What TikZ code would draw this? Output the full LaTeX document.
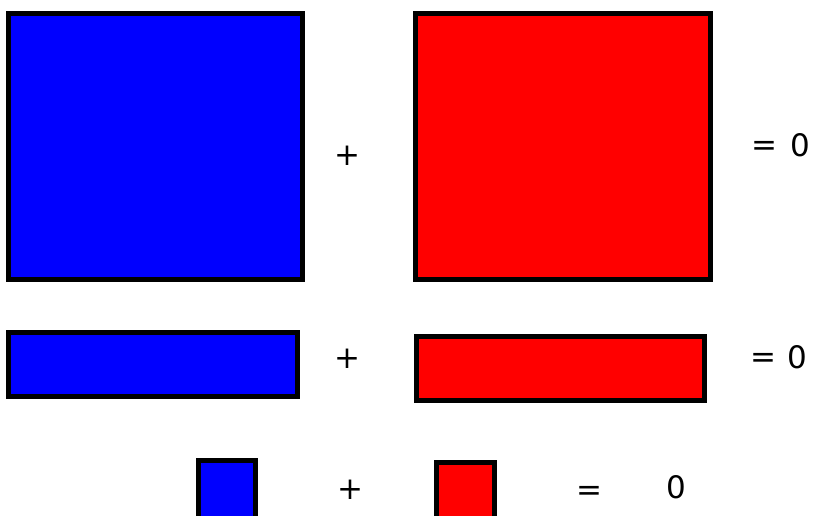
\documentclass[tikz,border=0pt]{standalone}
\usepackage{fontspec}
\setmainfont{DejaVu Sans}
\begin{document}
\begin{tikzpicture}[x=1pt,y=1pt,
  box/.style={draw=black, line width=5pt, inner sep=0pt, outer sep=0pt},
  bluebox/.style={box, fill={rgb,255:red,0;green,0;blue,255}},
  redbox/.style={box, fill={rgb,255:red,255;green,0;blue,0}},
  sym/.style={inner sep=0pt, outer sep=0pt, font=\fontsize{31}{31}\selectfont}]
\useasboundingbox (0,0) rectangle (814,515);
\clip (0,0) rectangle (814,515);
% row 1
\node[bluebox, minimum width=294pt, minimum height=266pt] (b1) at (155.5,368.5) {};
\node[redbox, minimum width=295pt, minimum height=265.5pt] (r1) at (563,368.75) {};
\node[sym] (p1) at (347,359) {+};
\node[sym] (e1) at (764,366.5) {=};
\node[sym] (z1) at (800,370) {0};
% row 2
\node[bluebox, minimum width=289pt, minimum height=64pt] (b2) at (153,150.5) {};
\node[redbox, minimum width=288pt, minimum height=64pt] (r2) at (560.5,146.5) {};
\node[sym] (p2) at (347,156) {+};
\node[sym] (e2) at (763,154.5) {=};
\node[sym] (z2) at (797,158) {0};
% row 3
\node[bluebox, minimum width=57pt, minimum height=69.5pt] (b3) at (227,19.75) {};
\node[redbox, minimum width=58pt, minimum height=67.5pt] (r3) at (465.5,18.75) {};
\node[sym] (p3) at (350,25) {+};
\node[sym] (e3) at (589,22) {=};
\node[sym] (z3) at (676,27.5) {0};
\end{tikzpicture}
\end{document}
